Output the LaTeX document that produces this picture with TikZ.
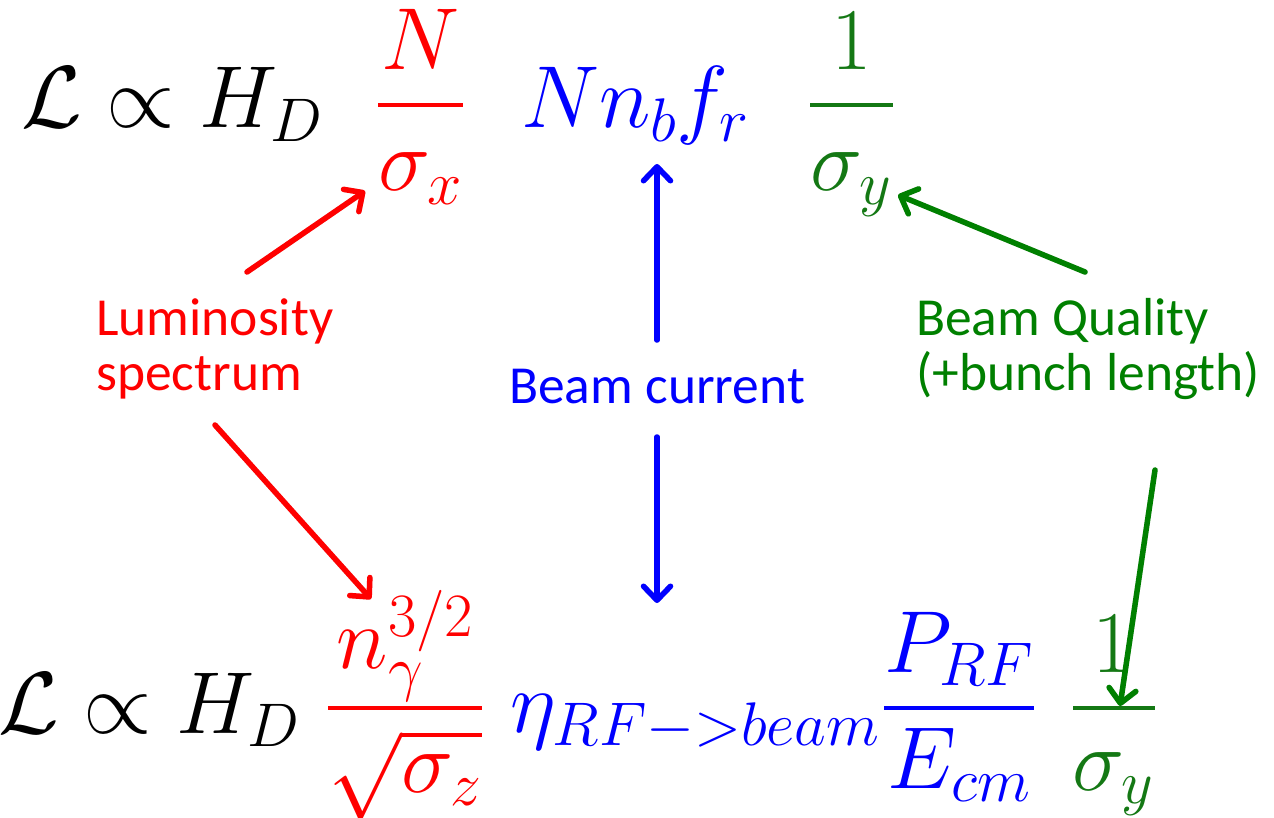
\RequirePackage{fix-cm}
\documentclass[tikz,border=0pt]{standalone}
\usepackage{amsmath}
\usepackage{fontspec}
\newfontfamily\labfont{Carlito}
\usetikzlibrary{arrows.meta}
\definecolor{cred}{RGB}{255,0,0}
\definecolor{cblue}{RGB}{0,0,255}
\definecolor{cgreen}{RGB}{0,128,0}
\definecolor{mgreen}{RGB}{20,120,20}
\tikzset{
  mathtxt/.style={inner sep=0pt, font=\fontsize{88}{100}\selectfont},
  labtxt/.style={inner sep=0pt, align=left, font=\labfont\fontsize{53.5}{55}\selectfont},
  fracbar/.style={line width=3.5pt},
  arr/.style={line width=5.5pt, line cap=round,
    -{Straight Barb[length=14pt,width=27pt,round]}},
  shad/.style={line width=5.5pt, line cap=round, draw=black, opacity=0.12,
    -{Straight Barb[length=14pt,width=27pt,round]}},
}
\begin{document}
\begin{tikzpicture}[x=1pt,y=-1pt]
\useasboundingbox (0,0) rectangle (1274,818);
% ---- top formula ----
\node[mathtxt, anchor=base west] (tL) at (21,128) {$\mathcal{L}\propto H_D$};
\node[mathtxt, anchor=base, text=cred] (tN) at (420.5,70) {$N$};
\node[mathtxt, anchor=base, text=cred] (tsx) at (420.5,191) {$\sigma_x$};
\draw[fracbar, cred] (378,105) -- (463,105);
\node[mathtxt, anchor=base west, text=cblue] (tNnf) at (521,128) {$Nn_bf_r$};
\node[mathtxt, anchor=base, text=mgreen] (t1) at (851.5,70) {$1$};
\node[mathtxt, anchor=base, text=mgreen] (tsy) at (851.5,191) {$\sigma_y$};
\draw[fracbar, mgreen] (810,105) -- (893,105);
% ---- bottom formula ----
\node[mathtxt, anchor=base west] (bL) at (-2,733) {$\mathcal{L}\propto H_D$};
\node[mathtxt, anchor=base, text=cred] (bn) at (405,668) {$n_\gamma^{3/2}$};
\node[mathtxt, anchor=base, text=cred] (bsz) at (405,792) {$\sqrt{\sigma_z}$};
\draw[fracbar, cred] (328,708) -- (482,708);
\node[mathtxt, anchor=base west, text=cblue] (beta) at (510,732) {$\eta_{RF->beam}$};
\node[mathtxt, anchor=base, text=cblue] (bP) at (959,672) {$P_{RF}$};
\node[mathtxt, anchor=base, text=cblue] (bE) at (959,788) {$E_{cm}$};
\draw[fracbar, cblue] (884,708) -- (1034,708);
\node[mathtxt, anchor=base, text=mgreen] (b1) at (1113,672) {$1$};
\node[mathtxt, anchor=base, text=mgreen] (bsy) at (1113,790) {$\sigma_y$};
\draw[fracbar, mgreen] (1073,708) -- (1155,708);
% ---- labels ----
\node[labtxt, anchor=base west, text=cred] (lum) at (96,390) {Luminosity\\spectrum};
\node[labtxt, anchor=base west, text=cblue] (cur) at (509,403) {Beam current};
\node[labtxt, anchor=base west, text=cgreen] (qual) at (916,390) {Beam Quality\\(+bunch length)};
% ---- arrow end points ----
\coordinate (r1s) at (247,272); \coordinate (r1e) at (365,191);
\coordinate (r2s) at (215,425); \coordinate (r2e) at (371,599);
\coordinate (b1s) at (657,340); \coordinate (b1e) at (657,164);
\coordinate (b2s) at (657,437); \coordinate (b2e) at (657,603);
\coordinate (g1s) at (1085,272); \coordinate (g1e) at (898,195);
\coordinate (g2s) at (1155,470); \coordinate (g2e) at (1120,706);
% shadows
\begin{scope}[shift={(2,4)}]
\foreach \s/\e in {r1s/r1e,r2s/r2e,b1s/b1e,b2s/b2e,g1s/g1e,g2s/g2e}
  \draw[shad] (\s) -- (\e);
\end{scope}
% arrows
\draw[arr, cred] (r1s) -- (r1e);
\draw[arr, cred] (r2s) -- (r2e);
\draw[arr, cblue] (b1s) -- (b1e);
\draw[arr, cblue] (b2s) -- (b2e);
\draw[arr, cgreen] (g1s) -- (g1e);
\draw[arr, cgreen] (g2s) -- (g2e);
\end{tikzpicture}
\end{document}
